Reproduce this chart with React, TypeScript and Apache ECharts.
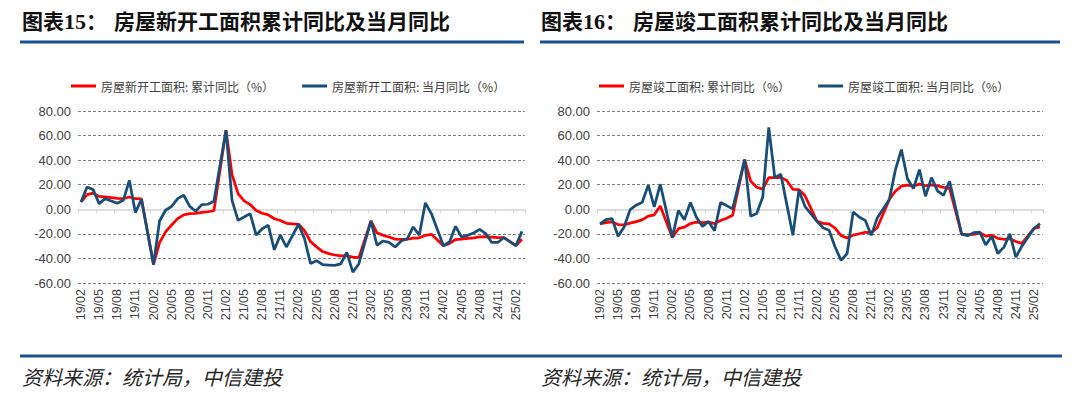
import React, { useEffect, useRef } from "react";
import * as echarts from "echarts";

const categories = [
  "19/02", "19/03", "19/04", "19/05", "19/06", "19/07", "19/08", "19/09", "19/10", "19/11", "19/12",
  "20/01", "20/02", "20/03", "20/04", "20/05", "20/06", "20/07", "20/08", "20/09", "20/10", "20/11", "20/12",
  "21/01", "21/02", "21/03", "21/04", "21/05", "21/06", "21/07", "21/08", "21/09", "21/10", "21/11", "21/12",
  "22/01", "22/02", "22/03", "22/04", "22/05", "22/06", "22/07", "22/08", "22/09", "22/10", "22/11", "22/12",
  "23/01", "23/02", "23/03", "23/04", "23/05", "23/06", "23/07", "23/08", "23/09", "23/10", "23/11", "23/12",
  "24/01", "24/02", "24/03", "24/04", "24/05", "24/06", "24/07", "24/08", "24/09", "24/10", "24/11", "24/12",
  "25/01", "25/02", "25/03",
];

// 房屋新开工面积: 累计同比（%）
const newStartCum = [
  6.0, 11.9, 13.1, 10.5, 10.1, 9.5, 8.9, 8.6, 10.0, 8.6, 8.5,
  null, -44.9, -27.2, -18.4, -12.8, -7.6, -4.5, -3.6, -3.4, -2.6, -2.0, -1.2,
  null, 64.3, 28.2, 12.8, 6.9, 3.8, -0.9, -3.2, -4.5, -7.7, -9.1, -11.4,
  null, -12.2, -17.5, -26.3, -30.6, -34.4, -36.1, -37.2, -38.0, -37.8, -38.9, -39.4,
  null, -9.4, -19.2, -21.2, -22.6, -24.3, -24.5, -24.4, -23.4, -23.2, -21.2, -20.4,
  null, -29.7, -27.8, -24.6, -24.2, -23.7, -23.2, -22.5, -22.2, -22.6, -23.0, -23.0,
  null, -29.6, -24.4,
];

// 房屋新开工面积: 当月同比（%）
const newStartMonth = [
  6.0, 18.2, 16.0, 4.6, 8.7, 6.8, 4.9, 7.3, 23.6, -2.7, 8.2,
  null, -44.9, -9.5, -0.8, 2.4, 8.7, 11.4, 2.4, -1.6, 3.8, 4.1, 6.5,
  null, 64.3, 7.3, -9.0, -6.3, -3.5, -21.0, -15.8, -13.0, -33.0, -21.0, -30.7,
  null, -12.2, -24.0, -44.2, -41.8, -45.1, -45.4, -45.7, -44.4, -35.1, -51.2, -44.3,
  null, -9.4, -29.3, -25.8, -27.0, -30.7, -25.8, -24.0, -14.4, -21.0, 5.2, -3.5,
  null, -29.7, -26.6, -13.9, -22.6, -21.2, -19.3, -16.3, -19.8, -27.0, -27.0, -23.0,
  null, -29.6, -18.0,
];

// 房屋竣工面积: 累计同比（%）
const completionCum = [
  -11.9, -10.8, -10.3, -12.4, -12.7, -11.3, -10.0, -8.6, -5.5, -4.5, 2.6,
  null, -22.9, -15.8, -14.5, -11.6, -10.5, -10.8, -10.5, -11.6, -9.2, -7.3, -4.9,
  null, 40.4, 22.9, 17.9, 16.4, 25.7, 25.7, 26.0, 23.4, 16.3, 16.0, 11.2,
  null, -9.8, -11.5, -11.9, -15.3, -21.5, -23.3, -21.1, -19.9, -18.7, -19.0, -15.0,
  null, 8.0, 14.7, 18.8, 19.6, 19.0, 20.5, 19.2, 19.8, 19.0, 17.9, 17.0,
  null, -20.2, -20.7, -20.4, -19.0, -21.8, -21.3, -23.6, -24.4, -23.9, -26.2, -27.7,
  null, -15.6, -14.3,
];

// 房屋竣工面积: 当月同比（%）
const completionMonth = [
  -11.9, -8.4, -7.6, -22.0, -14.4, -0.3, 3.3, 5.7, 19.6, 1.9, 20.4,
  null, -22.9, -1.0, -8.5, 5.5, -6.5, -14.0, -10.0, -17.5, 5.5, 3.0, 0.3,
  null, 40.4, -5.7, -3.5, 10.0, 66.6, 25.8, 28.5, 3.8, -21.2, 15.5, 2.4,
  null, -9.8, -15.0, -17.0, -30.7, -41.6, -36.0, -2.2, -6.3, -9.0, -21.2, -7.0,
  null, 8.0, 31.8, 48.6, 25.0, 16.8, 32.3, 10.6, 25.8, 15.0, 11.4, 22.8,
  null, -20.2, -21.5, -19.0, -18.5, -29.0, -22.0, -36.0, -31.0, -20.0, -39.0, -30.0,
  null, -15.6, -11.7,
];

const yMin = -60;
const yMax = 80;
const yStep = 20;

const leftNames = ["房屋新开工面积: 累计同比（%）", "房屋新开工面积: 当月同比（%）"];
const rightNames = ["房屋竣工面积: 累计同比（%）", "房屋竣工面积: 当月同比（%）"];

const RED = "#FF0000";
const BLUE = "#174E78";
const RULE = "#1A5190";
const CJK = "'Noto Sans CJK SC', 'Noto Sans', sans-serif";
const LATIN = "'Liberation Sans', Arial, sans-serif";

function makeAxes(gridIndex: number) {
  const labelAxis = {
    type: "category",
    gridIndex,
    position: "bottom",
    data: categories,
    boundaryGap: true,
    axisLine: { show: false, onZero: false },
    axisTick: { show: false },
    splitLine: { show: false },
    axisLabel: {
      interval: 2,
      rotate: 90,
      margin: 6,
      fontSize: 12.5,
      color: "#404040",
      fontFamily: LATIN,
    },
  };
  const zeroAxis = {
    type: "category",
    gridIndex,
    position: "bottom",
    data: categories,
    boundaryGap: true,
    axisLine: { show: true, onZero: true, lineStyle: { color: "#d4d4d4", width: 1.5 } },
    axisTick: { show: true, interval: 2, length: 4, alignWithLabel: false, lineStyle: { color: "#d4d4d4", width: 1 } },
    axisLabel: { show: false },
    splitLine: { show: false },
  };
  return [labelAxis, zeroAxis];
}

function makeY(gridIndex: number) {
  return {
    type: "value",
    gridIndex,
    min: yMin,
    max: yMax,
    interval: yStep,
    axisLine: { show: false },
    axisTick: { show: false },
    axisLabel: {
      margin: 7,
      fontSize: 13,
      color: "#404040",
      fontFamily: LATIN,
      formatter: (v: number) => v.toFixed(2),
    },
    splitLine: {
      show: true,
      lineStyle: {
        color: ["#7f7f7f", "#7f7f7f", "#7f7f7f", "rgba(0,0,0,0)", "#7f7f7f", "#7f7f7f", "#7f7f7f", "#7f7f7f"],
        type: [3, 2],
        width: 1,
      },
    },
  };
}

function lineSeries(name: string, data: (number | null)[], xAxisIndex: number, yAxisIndex: number, color: string, z: number) {
  return {
    name,
    type: "line",
    xAxisIndex,
    yAxisIndex,
    data,
    symbol: "none",
    showSymbol: false,
    connectNulls: true,
    z,
    lineStyle: { color, width: 2.75 },
    itemStyle: { color },
  };
}

function legend(left: number, names: string[]) {
  return {
    left,
    top: 80,
    padding: 0,
    data: names,
    icon: "rect",
    itemWidth: 25,
    itemHeight: 3,
    itemGap: 28,
    selectedMode: false,
    textStyle: { fontSize: 12, color: "#404040", fontFamily: CJK },
  };
}

function titleGraphics(x0: number, num: string, title: string) {
  const font = (size: number, fam: string) => `bold ${size}px ${fam}`;
  return [
    { type: "text", x: x0, y: 20, style: { text: "图表", font: font(21, CJK), fill: "#111", textVerticalAlign: "middle" } },
    { type: "text", x: x0 + 42, y: 21, style: { text: num, font: font(22, "'Liberation Serif', serif"), fill: "#111", textVerticalAlign: "middle" } },
    { type: "text", x: x0 + 64, y: 20, style: { text: "：", font: font(21, CJK), fill: "#111", textVerticalAlign: "middle" } },
    { type: "text", x: x0 + 92, y: 20, style: { text: title, font: font(21, CJK), fill: "#111", textVerticalAlign: "middle" } },
  ];
}

export default function App() {
  const ref = useRef<HTMLDivElement>(null);
  useEffect(() => {
    if (!ref.current) return;
    const chart = echarts.init(ref.current, undefined, { renderer: "svg" });
    const [lx0, lx1] = makeAxes(0);
    const [rx0, rx1] = makeAxes(1);
    chart.setOption({
      animation: false,
      backgroundColor: "#ffffff",
      grid: [
        { left: 78, top: 111, width: 447, height: 172 },
        { left: 597, top: 111, width: 446, height: 172 },
      ],
      xAxis: [lx0, lx1, rx0, rx1],
      yAxis: [makeY(0), makeY(1)],
      legend: [legend(71, leftNames), legend(599, rightNames)],
      series: [
        lineSeries(leftNames[0], newStartCum, 0, 0, RED, 2),
        lineSeries(leftNames[1], newStartMonth, 0, 0, BLUE, 3),
        lineSeries(rightNames[0], completionCum, 2, 1, RED, 2),
        lineSeries(rightNames[1], completionMonth, 2, 1, BLUE, 3),
      ],
      graphic: [
        ...titleGraphics(22, "15", "房屋新开工面积累计同比及当月同比"),
        ...titleGraphics(541, "16", "房屋竣工面积累计同比及当月同比"),
        { type: "rect", shape: { x: 20, y: 40.5, width: 504, height: 3 }, style: { fill: RULE } },
        { type: "rect", shape: { x: 540, y: 40.5, width: 520, height: 3 }, style: { fill: RULE } },
        { type: "rect", shape: { x: 20, y: 354.5, width: 1042, height: 3 }, style: { fill: RULE } },
        { type: "text", x: 22, y: 376, style: { text: "资料来源：统计局，中信建投", font: `italic 20px ${CJK}`, fill: "#262626", textVerticalAlign: "middle" } },
        { type: "text", x: 541, y: 376, style: { text: "资料来源：统计局，中信建投", font: `italic 20px ${CJK}`, fill: "#262626", textVerticalAlign: "middle" } },
      ],
    });
    return () => chart.dispose();
  }, []);
  return (
    <div
      ref={ref}
      style={{ position: "absolute", left: 0, top: 0, width: 1080, height: 396, background: "#fff" }}
    />
  );
}
